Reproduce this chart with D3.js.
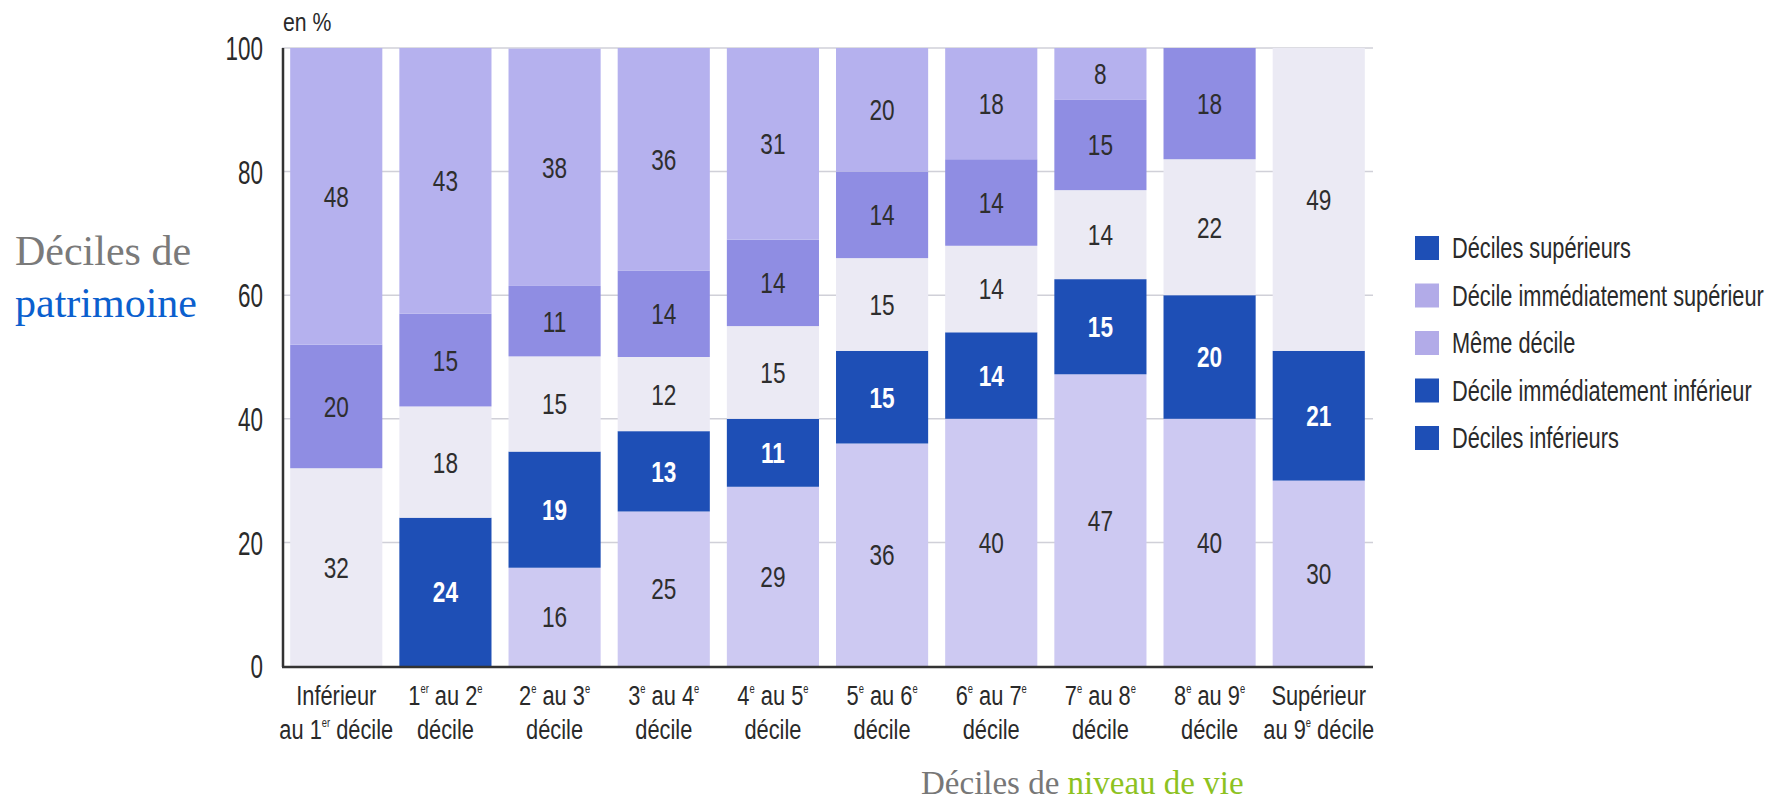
<!DOCTYPE html>
<html>
<head>
<meta charset="utf-8">
<script src="https://cdn.jsdelivr.net/npm/d3@7"></script>
<style>
  body { margin: 0; background: #fff; }
  .narrow { font-family: "Liberation Sans", Arial, sans-serif; }
  .serif { font-family: "Liberation Serif", "Times New Roman", serif; }
</style>
</head>
<body>
<div id="chart"></div>
<script>
const width = 1778;
const height = 802;

// categories (x axis), {..} = superscript
const catLine1 = ["Inférieur", "1{er} au 2{e}", "2{e} au 3{e}", "3{e} au 4{e}", "4{e} au 5{e}",
  "5{e} au 6{e}", "6{e} au 7{e}", "7{e} au 8{e}", "8{e} au 9{e}", "Supérieur"];
const catLine2 = ["au 1{er} décile", "décile", "décile", "décile", "décile",
  "décile", "décile", "décile", "décile", "au 9{e} décile"];

const seriesNames = ["Déciles inférieurs", "Décile immédiatement inférieur", "Même décile",
  "Décile immédiatement supérieur", "Déciles supérieurs"];

// values in %, bottom to top
const infValues    = [0, 0, 15.9, 25, 29, 36, 40, 47.2, 40, 30];
const immInfValues = [0, 24, 18.8, 13, 11, 15, 14, 15.4, 20, 21];
const memeValues   = [32, 18, 15.4, 12, 15, 15, 14, 14.4, 22, 49];
const immSupValues = [20, 15, 11.4, 14, 14, 14, 14, 14.6, 18, 0];
const supValues    = [48, 43, 38.4, 36, 31, 20, 18, 8.4, 0, 0];

const yTicks = [0, 20, 40, 60, 80, 100];

// legend, top to bottom (as drawn in the original)
const legendNames = ["Déciles supérieurs", "Décile immédiatement supérieur", "Même décile",
  "Décile immédiatement inférieur", "Déciles inférieurs"];

const fills = ["#cdc9f2", "#1e4fb6", "#ebeaf4", "#8f8de3", "#b5b1ee"];
const legendFills = ["#1e4fb6", "#b2abe8", "#b2abe8", "#1e4fb6", "#1e4fb6"];

const keys = ["inf", "immInf", "meme", "immSup", "sup"];
const rows = catLine1.map((c, i) => ({
  cat: i,
  inf: infValues[i], immInf: immInfValues[i], meme: memeValues[i],
  immSup: immSupValues[i], sup: supValues[i]
}));

const svg = d3.select("#chart")
  .append("svg")
  .attr("width", width)
  .attr("height", height);

// condensed look: squeeze text horizontally
const place = (px, py, sx) => `translate(${px},${py}) scale(${sx},1)`;

const x = d3.scaleBand()
  .domain(d3.range(catLine1.length))
  .range([282, 1373])
  .paddingInner(0.156)
  .paddingOuter(0.075);

const y = d3.scaleLinear()
  .domain([0, 100])
  .range([666, 48]);

// gridlines
svg.append("g")
  .selectAll("line")
  .data(yTicks.filter(d => d > 0))
  .enter()
  .append("line")
  .attr("x1", 282)
  .attr("x2", 1373)
  .attr("y1", d => y(d))
  .attr("y2", d => y(d))
  .attr("stroke", "#d0d0d8")
  .attr("stroke-width", 1.5);

// y tick labels
svg.append("g")
  .selectAll("text")
  .data(yTicks)
  .enter()
  .append("text")
  .attr("class", "narrow")
  .attr("transform", d => place(263, y(d), 0.66))
  .attr("dy", "0.36em")
  .attr("text-anchor", "end")
  .attr("font-size", 34)
  .attr("fill", "#2a2a2a")
  .text(d => d);

const stacked = d3.stack().keys(keys)(rows);

const layer = svg.append("g")
  .selectAll("g")
  .data(stacked)
  .enter()
  .append("g")
  .attr("fill", (d, i) => fills[i]);

layer.selectAll("rect")
  .data(d => d.filter(s => s[1] - s[0] > 0))
  .enter()
  .append("rect")
  .attr("x", d => x(d.data.cat))
  .attr("width", x.bandwidth())
  .attr("y", d => y(d[1]))
  .attr("height", d => y(d[0]) - y(d[1]));

layer.selectAll("text")
  .data((d, i) => d.filter(s => s[1] - s[0] > 0).map(s => ({ s, dark: i === 1 })))
  .enter()
  .append("text")
  .attr("class", "narrow")
  .attr("transform", d => place(x(d.s.data.cat) + x.bandwidth() / 2, y((d.s[0] + d.s[1]) / 2), 0.78))
  .attr("dy", "0.36em")
  .attr("text-anchor", "middle")
  .attr("font-size", 29)
  .attr("font-weight", d => d.dark ? "bold" : "normal")
  .attr("fill", d => d.dark ? "#ffffff" : "#2e2e2e")
  .text(d => Math.round(d.s[1] - d.s[0]));

// axes lines
svg.append("line")
  .attr("x1", 283).attr("x2", 283)
  .attr("y1", y(100)).attr("y2", y(0) + 1)
  .attr("stroke", "#333").attr("stroke-width", 2.5);
svg.append("line")
  .attr("x1", 282).attr("x2", 1373)
  .attr("y1", y(0) + 1).attr("y2", y(0) + 1)
  .attr("stroke", "#333").attr("stroke-width", 2.5);

// x labels with superscripts
function addRich(sel, str) {
  const parts = str.split(/(\{[^}]*\})/).filter(p => p.length);
  let shift = 0;
  parts.forEach(p => {
    if (p[0] === "{") {
      sel.append("tspan")
        .attr("font-size", 12)
        .attr("dy", -12 - shift)
        .text(p.slice(1, -1));
      shift = -12;
    } else {
      sel.append("tspan").attr("dy", -shift).text(p);
      shift = 0;
    }
  });
}

const xl = svg.append("g")
  .selectAll("g")
  .data(catLine1.map((c, i) => i))
  .enter()
  .append("g");

[catLine1, catLine2].forEach((lines, li) => {
  xl.append("text")
    .attr("class", "narrow")
    .attr("transform", d => place(x(d) + x.bandwidth() / 2, li === 0 ? 705 : 739, 0.78))
    .attr("text-anchor", "middle")
    .attr("font-size", 28)
    .attr("fill", "#2a2a2a")
    .each(function (d) { addRich(d3.select(this), lines[d]); });
});

// unit
svg.append("text")
  .attr("class", "narrow")
  .attr("transform", place(283, 31, 0.85))
  .attr("font-size", 25)
  .attr("fill", "#2a2a2a")
  .text("en %");

// legend
const legend = svg.append("g")
  .selectAll("g")
  .data(legendNames)
  .enter()
  .append("g")
  .attr("transform", (d, i) => `translate(1415, ${248 + i * 47.5})`);

legend.append("rect")
  .attr("x", 0)
  .attr("y", -12)
  .attr("width", 24)
  .attr("height", 24)
  .attr("fill", (d, i) => legendFills[i]);

legend.append("text")
  .attr("class", "narrow")
  .attr("transform", place(37, 0, 0.75))
  .attr("dy", "0.36em")
  .attr("font-size", 29)
  .attr("fill", "#2a2a2a")
  .text(d => d);

// side titles
svg.append("text")
  .attr("class", "serif")
  .attr("x", 15)
  .attr("y", 265)
  .attr("font-size", 42)
  .attr("fill", "#7a7a7a")
  .text("Déciles de");
svg.append("text")
  .attr("class", "serif")
  .attr("x", 15)
  .attr("y", 317)
  .attr("font-size", 42)
  .attr("fill", "#0b5fce")
  .text("patrimoine");

const bottom = svg.append("text")
  .attr("class", "serif")
  .attr("x", 921)
  .attr("y", 794)
  .attr("font-size", 33);
bottom.append("tspan").attr("fill", "#777").text("Déciles de ");
bottom.append("tspan").attr("fill", "#8dc21f").text("niveau de vie");
</script>
</body>
</html>
